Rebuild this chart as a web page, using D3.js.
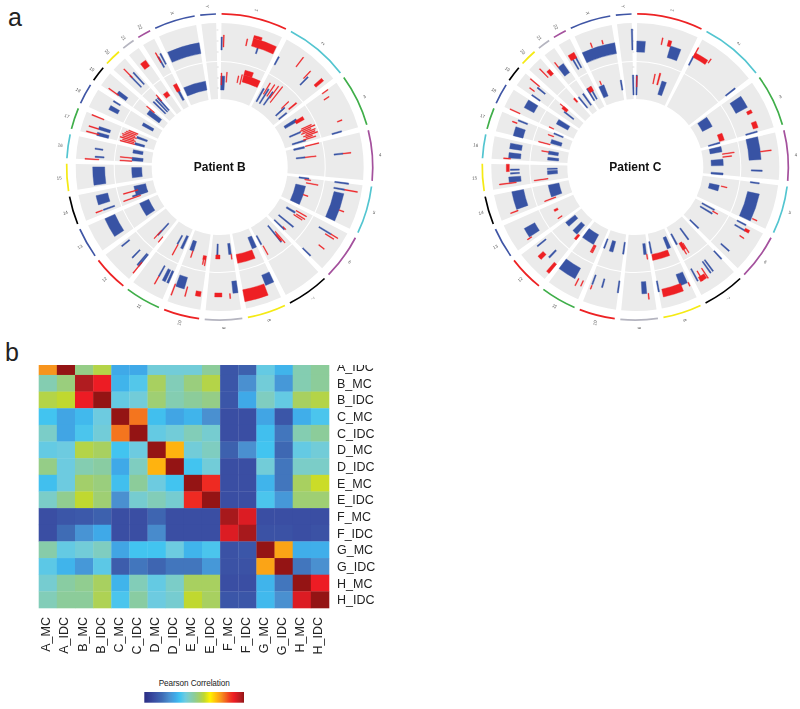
<!DOCTYPE html>
<html><head><meta charset="utf-8">
<script src="https://cdn.jsdelivr.net/npm/d3@7/dist/d3.min.js"></script>
<style>html,body{margin:0;padding:0;background:#fff}svg{display:block}text{font-family:"Liberation Sans",Arial,sans-serif}.soft{filter:blur(0.45px)}</style>
</head><body><svg id="c" width="800" height="709"></svg>
<script>
// chromosomes
const chromosomes=['1','2','3','4','5','6','7','8','9','10','11','12','13','14','15','16','17','18','19','20','21','22','X','Y'];
const chromLengths=[249,243,198,191,181,171,159,146,141,135.5,135,133.8,115,107,102.5,90,81,78,59,63,48,51,155,59];
const chromColors=['#ed2224','#53c5d0','#3fae49','#a4519d','#53c5d0','#a4519d','#000','#f5ea14','#b5b5c0','#ed2224','#3fae49','#ed2224','#3f55a5','#000','#f5ea14','#53c5d0','#3fae49','#3f55a5','#000','#f5ea14','#b5b5c0','#a4519d','#3f55a5','#3f55a5'];
const axisTicksOuter=[9,20,31];
const axisTicksInner=[11,21,32];
// marks: [chromosome, start Mb, end Mb, low, high]
const patientBOuterBlue=[['1',2,2,11,24],['1',170,170,13,19],['2',5,5,10,19],['2',167,167,9,20],['3',195,195,11,21],['4',77,77,9,18],['5',1,1,10,24],['5',30,30,10,21],['5',48,178,11,21],['6',36,36,10,24],['6',168,168,10,21],['8',0,40,10,21],['9',2,25,9,21],['10',85,125,9,21],['11',3,13,8,21],['11',20,35,8,21],['11',57,57,7,19],['12',3,3,7,22],['12',10,10,7,22],['12',49,49,9,20],['12',120,120,10,20],['13',20,112,9,20],['14',16,16,6,18],['14',45,88,9,21],['15',8,91,9,21],['16',14,14,10,19],['16',51,51,12,20],['17',0,15,9,21],['17',28,42,9,21],['18',28,48,9,19],['18',72,72,11,19],['19',7,25,9,20],['20',30,30,6,22],['20',50,50,6,22],['22',30,30,8,20],['22',45,45,10,22],['X',5,155,9,20]];
const patientBOuterRed=[['1',11,11,14,26],['1',115,115,18,25],['1',140,245,19,27],['1',140,175,27,30],['2',96,96,20,32],['2',157,157,16,26],['2',212,226,19,29],['3',3,3,20,27],['3',31,31,18,24],['3',146,150,20,25],['4',77,77,18,26],['5',30,30,21,34],['5',125,125,21,26],['6',36,36,24,32],['6',48,48,19,29],['6',106,106,20,27],['8',45,146,19,31],['9',75,107,20,24],['9',39,39,21,26],['10',7,30,20,25],['10',73,73,18,28],['10',130,130,19,31],['11',57,57,19,28],['12',2,2,17,31],['14',16,16,19,26],['16',2,2,15,29],['17',6,6,19,32],['17',30,30,21,31],['17',78,78,19,32],['19',8,8,18,30],['20',31,31,19,31],['21',15,43,17,24],['22',28,28,14,25]];
const patientBInnerBlue=[['1',0,25,9,23],['2',16,16,7,22],['2',44,44,7,24],['2',76,76,8,24],['2',198,198,8,20],['2',233,233,8,18],['3',35,55,8,22],['3',125,125,8,20],['3',185,185,8,22],['4',2,14,8,19],['4',75,75,9,18],['5',2,2,12,22],['5',53,178,10,20],['6',30,42,10,20],['6',116,116,8,27],['6',165,165,8,22],['7',38,38,8,29],['7',150,150,10,20],['8',5,35,8,20],['9',9,26,9,20],['9',100,100,9,20],['10',95,122,10,20],['11',8,24,8,22],['11',53,53,10,20],['12',32,32,8,24],['13',18,110,10,20],['14',32,32,8,24],['14',32,92,8,20],['15',20,87,10,20],['16',8,30,9,20],['16',58,80,10,20],['17',3,17,10,20],['17',47,60,9,20],['18',35,55,8,20],['19',15,47,7,22],['20',20,20,8,25],['20',40,40,8,25],['20',56,56,8,25],['22',30,44,8,24],['X',5,155,10,19]];
const patientBInnerRed=[['1',4,4,14,26],['1',37,37,17,27],['1',110,110,18,25],['1',130,130,17,27],['1',140,245,20,27],['1',140,190,27,32],['2',33,33,17,30],['2',60,60,17,31],['2',83,83,17,32],['2',103,103,14,34],['2',188,188,17,27],['2',220,228,22,32],['3',45,65,20,29],['3',110,110,22,33],['3',120,120,20,36],['3',130,130,22,31],['3',140,140,20,35],['3',150,150,24,34],['3',160,160,21,36],['3',170,170,23,30],['3',180,180,20,33],['4',3,3,20,34],['4',75,75,18,29],['5',8,13,18,24],['5',31,31,20,32],['5',110,110,20,25],['6',22,22,20,32],['6',40,40,22,32],['6',52,52,20,30],['6',156,160,19,23],['7',25,25,17,32],['7',30,38,20,28],['7',144,144,22,32],['8',40,146,21,30],['9',10,10,20,25],['9',83,110,20,24],['10',7,27,22,26],['10',10,10,26,32],['10',22,22,26,31],['10',100,100,20,27],['11',49,49,20,32],['12',2,2,22,29],['12',35,35,18,29],['14',22,22,16,34],['14',62,62,17,32],['16',5,5,20,32],['16',25,25,20,32],['17',5,5,20,35],['17',15,15,21,33],['17',25,25,20,36],['17',35,35,22,34],['17',45,45,20,35],['17',55,55,22,33],['17',65,65,21,32],['17',75,75,20,30],['19',52,52,17,27],['20',61,61,20,28],['21',12,42,19,24],['22',25,48,18,26]];
const patientCOuterBlue=[['1',0,39,9,20],['1',155,205,8,20],['2',0,0,9,19],['2',240,240,9,21],['3',20,78,8,21],['3',196,196,9,21],['4',0,105,8,20],['4',156,156,10,21],['5',2,2,10,19],['5',50,178,9,21],['6',2,2,9,19],['6',26,26,9,21],['6',143,143,9,20],['7',1,1,9,20],['7',65,65,10,24],['7',78,78,10,24],['7',145,145,10,24],['8',10,45,9,21],['8',145,145,10,21],['9',33,55,9,21],['10',2,2,9,21],['10',77,77,10,19],['10',124,124,9,19],['11',50,135,9,21],['12',42,50,9,19],['12',120,120,9,20],['13',20,65,9,21],['14',22,105,8,20],['15',20,45,9,21],['15',61,61,10,19],['15',78,78,10,19],['16',8,32,9,21],['16',50,75,9,21],['17',0,42,10,20],['17',73,73,10,20],['18',35,75,9,20],['19',3,3,10,20],['19',45,45,10,20],['21',12,42,9,20],['22',20,20,7,19],['22',36,36,7,19],['X',0,155,9,20],['Y',59,59,11,32]];
const patientCOuterRed=[['1',113,113,19,26],['1',140,155,19,25],['2',0,3,19,29],['2',0,65,18,23],['2',73,73,21,26],['3',95,110,18,23],['3',150,180,18,23],['4',69,69,20,31],['5',165,165,22,27],['6',15,28,20,25],['6',58,58,19,24],['7',105,135,21,26],['7',100,100,15,27],['7',125,125,15,26],['8',6,6,21,25],['8',40,130,19,27],['9',26,26,21,27],['10',124,124,20,24],['11',12,12,19,25],['11',35,35,19,27],['12',0,14,19,31],['12',65,85,19,26],['13',15,15,19,24],['14',15,15,19,27],['15',17,17,14,31],['15',70,103,20,23],['16',5,5,19,26],['17',59,59,20,25],['18',2,2,21,32],['19',23,23,20,26],['19',55,55,19,31],['20',32,32,19,31],['20',45,62,18,24],['21',14,14,20,26],['22',10,40,18,24],['X',51,51,21,26],['X',102,102,21,25]];
const patientCInnerBlue=[['1',165,195,8,22],['1',2,2,4,24],['3',10,80,8,19],['3',198,198,8,20],['4',5,40,8,20],['4',88,130,8,20],['4',178,191,8,20],['5',50,88,8,18],['6',10,10,8,22],['6',37,37,8,22],['6',165,165,8,20],['7',70,70,8,22],['7',145,155,8,20],['8',15,38,8,20],['8',146,146,8,20],['9',12,30,9,20],['10',2,2,8,20],['10',70,95,9,20],['10',133,133,9,19],['11',50,135,9,20],['12',20,55,9,21],['12',92,125,9,21],['14',22,100,10,21],['15',42,66,10,20],['15',78,78,10,20],['16',12,30,9,20],['16',50,72,10,20],['17',12,38,9,20],['17',80,80,10,20],['18',40,72,9,22],['19',33,33,10,22],['21',0,0,8,22],['21',35,35,8,22],['22',5,5,10,24],['22',26,26,10,24],['X',5,40,8,20],['X',154,154,10,20],['Y',59,59,4,24]];
const patientCInnerRed=[['1',3,3,12,23],['1',113,113,17,27],['1',138,146,17,29],['3',145,190,20,25],['4',55,55,20,32],['4',74,74,20,29],['5',53,53,20,26],['6',22,22,21,27],['7',115,135,20,28],['7',112,112,22,33],['7',128,128,24,33],['8',40,146,21,27],['9',10,10,20,25],['11',32,32,20,28],['11',38,38,20,28],['11',44,44,20,28],['12',0,15,20,26],['13',65,78,20,24],['13',18,18,20,25],['14',11,11,17,29],['15',14,14,20,34],['16',65,65,20,27],['17',3,3,20,32],['17',60,60,19,25],['18',1,6,22,27],['19',40,59,20,26],['19',55,55,26,30],['20',52,62,19,24],['22',8,35,19,24],['X',25,25,21,25]];
// heatmap
const colLabels=['A_MC','A_IDC','B_MC','B_IDC','C_MC','C_IDC','D_MC','D_IDC','E_MC','E_IDC','F_MC','F_IDC','G_MC','G_IDC','H_MC','H_IDC'];
const rowLabels=colLabels.slice(1);
const corrValues=[
[77,100,52,58,31,31,42,42,42,50,12,15,40,33,47,50],
[47,53,97,90,33,38,56,46,53,58,12,25,42,27,47,50],
[58,60,90,100,40,42,54,47,50,52,12,31,45,40,56,58],
[36,30,34,41,100,80,35,30,33,25,10,10,30,12,32,37],
[44,30,37,42,80,100,40,42,46,43,10,10,35,20,47,50],
[40,41,58,56,36,41,100,73,42,45,15,25,36,17,40,42],
[52,41,47,49,31,45,73,100,36,42,10,10,42,20,44,44],
[35,41,55,53,35,50,41,36,100,88,10,10,33,20,56,61],
[44,51,60,54,25,43,46,43,88,100,10,10,37,27,54,54],
[10,12,13,15,10,10,16,10,10,10,98,92,10,10,10,10],
[10,18,26,31,10,10,24,10,10,10,92,98,11,11,10,11],
[48,40,42,45,30,36,36,41,33,37,11,12,100,75,32,32],
[39,33,27,39,14,20,16,20,20,27,11,11,75,100,20,25],
[43,49,51,56,33,46,40,44,56,56,10,10,33,20,100,90],
[46,50,50,57,37,49,41,43,60,56,12,12,34,25,92,100]];
const rampStops=[0,10,18,25,31,36,41,45,50,56,60,66,73,77,85,90,97,100];
const rampColors=['#2b2d84','#3a4ea3','#3f6cb5','#4a90d0','#3fa9e8','#42c4f0','#6dcbe0','#7fcdc0','#8ccc9a','#a8d060','#c0d830','#fff200','#ffb30f','#f7941d','#f04020','#ed1c24','#b01c20','#941414'];

const svg=d3.select('#c');
const BLUE='#3853a4',RED='#ee2024';
const gap=21;
let cum=0;const chromStart={};
chromosomes.forEach((c,i)=>{chromStart[c]=cum;cum+=chromLengths[i]+gap;});
const angle=d3.scaleLinear().domain([-7,cum-7]).range([0,2*Math.PI]);
const rOuter=d3.scaleLinear().domain([0,38]).range([106,144]);
const rInner=d3.scaleLinear().domain([0,37]).range([68,105]);
const arc=d3.arc();
function markPath(d,r,w){let a0=angle(chromStart[d[0]]+d[1]),a1=angle(chromStart[d[0]]+d[2]);
 const minA=w/((r(d[3])+r(d[4]))/2);
 if(a1-a0<minA){const m=(a0+a1)/2;a0=m-minA/2;a1=m+minA/2;}
 return arc({innerRadius:r(d[3]),outerRadius:r(d[4]),startAngle:a0,endAngle:a1});}
function circos(cx,cy,name,ob,or,ib,ir){
 const g=svg.append('g').attr('class','soft').attr('transform',`translate(${cx},${cy})`);
 chromosomes.forEach((c,i)=>{
  const a0=angle(chromStart[c]),a1=angle(chromStart[c]+chromLengths[i]);
  [rOuter,rInner].forEach(r=>g.append('path').attr('fill','#ebebeb').attr('d',arc({innerRadius:r.range()[0],outerRadius:r.range()[1],startAngle:a0,endAngle:a1})));
  g.append('path').attr('fill',chromColors[i]).attr('d',arc({innerRadius:152.2,outerRadius:153.9,startAngle:a0,endAngle:a1}));
  const m=(a0+a1)/2,deg=m*180/Math.PI;
  g.append('text').attr('font-size',4.5).attr('fill','#555').attr('text-anchor','middle').attr('dy','.35em')
   .attr('transform',`rotate(${deg-90}) translate(161,0)`+(deg>180?' rotate(180)':'')).text(c);
 });
 const tickAngle=angle(chromStart['1'])-0.022;
 [[rOuter,axisTicksOuter],[rInner,axisTicksInner]].forEach(([r,t])=>g.append('g').selectAll('line').data(t).join('line')
  .attr('stroke','#bbb').attr('stroke-width',.5)
  .attr('x1',d=>r(d)*Math.sin(tickAngle)).attr('y1',d=>-r(d)*Math.cos(tickAngle))
  .attr('x2',d=>r(d)*Math.sin(tickAngle)-1.8).attr('y2',d=>-r(d)*Math.cos(tickAngle)));
 const dr=(data,r,col,w)=>g.append('g').selectAll('path').data(data).join('path').attr('fill',col).attr('stroke',col).attr('stroke-width',.4).attr('d',d=>markPath(d,r,w));
 dr(ob,rOuter,BLUE,1.3);dr(or,rOuter,RED,.9);dr(ib,rInner,BLUE,1.3);dr(ir,rInner,RED,.8);
 g.append('text').attr('text-anchor','middle').attr('dy','.35em').attr('font-size',12).attr('font-weight','bold').attr('fill','#111').text(name);
}
circos(219.7,167,'Patient B',patientBOuterBlue,patientBOuterRed,patientBInnerBlue,patientBInnerRed);
circos(635.3,167,'Patient C',patientCOuterBlue,patientCOuterRed,patientCInnerBlue,patientCInnerRed);

svg.append('text').attr('x',8).attr('y',26).attr('font-size',25).attr('fill','#222').text('a');
svg.append('text').attr('x',5).attr('y',361).attr('font-size',25).attr('fill','#222').text('b');

// heatmap
const color=d3.scaleLinear().domain(rampStops).range(rampColors);
const x=d3.scaleBand().domain(colLabels).range([38.7,329]);
const y=d3.scaleBand().domain(rowLabels).range([358.3,608]);
svg.append('clipPath').attr('id','hc').append('rect').attr('x',0).attr('y',365).attr('width',400).attr('height',300);
const h=svg.append('g').attr('class','soft').attr('clip-path','url(#hc)');
rowLabels.forEach((rl,ri)=>h.append('g').selectAll('rect').data(corrValues[ri]).join('rect')
 .attr('x',(d,i)=>x(colLabels[i])).attr('y',y(rl)).attr('width',x.bandwidth()+.3).attr('height',y.bandwidth()+.3).attr('fill',d=>color(d)));
h.append('g').selectAll('text').data(rowLabels).join('text').attr('x',337).attr('y',d=>y(d)+y.bandwidth()/2).attr('dy','.36em').attr('font-size',12.5).attr('fill','#222').text(d=>d);
const xl=svg.append('g').attr('class','soft');
xl.selectAll('text').data(colLabels).join('text').attr('text-anchor','end').attr('font-size',12.5).attr('fill','#222')
 .attr('transform',d=>`translate(${x(d)+x.bandwidth()/2-2},617) rotate(-90)`).attr('dy','.36em').text(d=>d);

// legend
const lg=svg.append('defs').append('linearGradient').attr('id','lg');
rampStops.forEach((s,i)=>lg.append('stop').attr('offset',s+'%').attr('stop-color',rampColors[i]));
const lx=d3.scaleLinear().domain([0,100]).range([144.3,244]);
svg.append('rect').attr('class','soft').attr('x',lx(0)).attr('y',692).attr('width',lx(100)-lx(0)).attr('height',10.7).attr('fill','url(#lg)');
svg.append('text').attr('x',lx(50)).attr('y',686).attr('text-anchor','middle').attr('font-size',8.2).attr('letter-spacing',-.1).attr('fill','#222').text('Pearson Correlation');
</script></body></html>
